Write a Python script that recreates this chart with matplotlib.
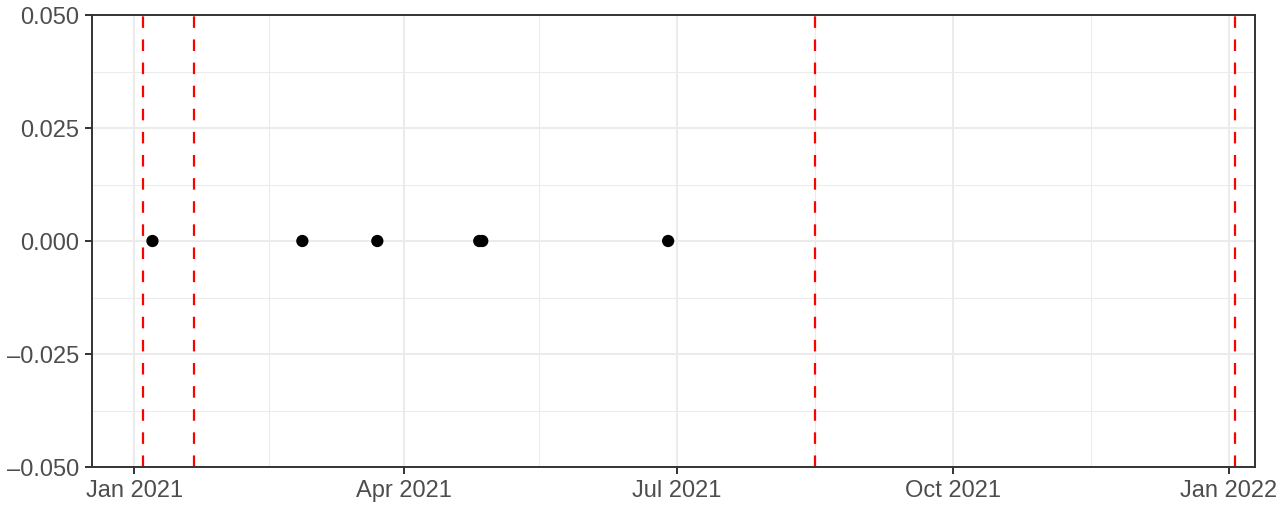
import datetime as dt
import matplotlib
matplotlib.use("Agg")
import matplotlib.pyplot as plt
import matplotlib.dates as mdates
from matplotlib.ticker import FixedLocator, FuncFormatter

plt.rcParams['font.family'] = ['Liberation Sans', 'DejaVu Sans']

# data
point_dates = ['2021-01-07', '2021-02-26', '2021-03-23', '2021-04-26', '2021-04-27', '2021-06-28']
point_values = [0, 0, 0, 0, 0, 0]
vline_dates = ['2021-01-04', '2021-01-21', '2021-08-16', '2022-01-03']
x_tick_dates = ['2021-01-01', '2021-04-01', '2021-07-01', '2021-10-01', '2022-01-01']
x_minor_dates = ['2021-02-15', '2021-05-16', '2021-08-16', '2021-11-16']
y_ticks = [-0.05, -0.025, 0.0, 0.025, 0.05]
y_minor = [-0.0375, -0.0125, 0.0125, 0.0375]


def to_dt(s):
    return dt.datetime.strptime(s, '%Y-%m-%d')


fig = plt.figure(figsize=(12.8, 5.11), dpi=100)
ax = fig.add_axes([92 / 1280, 1 - 467 / 511, (1255 - 92) / 1280, (467 - 15) / 511])

grid_col = '#EBEBEB'
border_col = '#333333'

ax.set_xlim(dt.datetime(2020, 12, 17, 20), dt.datetime(2022, 1, 9, 18))
ax.set_ylim(-0.05, 0.05)

ax.xaxis.set_major_locator(FixedLocator([mdates.date2num(to_dt(d)) for d in x_tick_dates]))
ax.xaxis.set_minor_locator(FixedLocator([mdates.date2num(to_dt(d)) for d in x_minor_dates]))
ax.xaxis.set_major_formatter(mdates.DateFormatter('%b %Y'))
ax.yaxis.set_major_locator(FixedLocator(y_ticks))
ax.yaxis.set_minor_locator(FixedLocator(y_minor))
ax.yaxis.set_major_formatter(FuncFormatter(lambda v, p: f"{v:.3f}".replace('-', '\u2013')))

ax.grid(which='major', color=grid_col, linewidth=1.5)
ax.grid(which='minor', color=grid_col, linewidth=0.75)
ax.set_axisbelow(True)

# red dashed markers
for d in vline_dates:
    ax.axvline(to_dt(d), color='#FF0000', linewidth=1.6, linestyle=(0, (5.2, 5.2)), zorder=2)

ax.scatter([to_dt(d) for d in point_dates], point_values, s=78, color='black',
           edgecolors='none', zorder=3)

for s in ax.spines.values():
    s.set_color(border_col)
    s.set_linewidth(1.4)

ax.tick_params(which='major', length=5, width=1.4, color=border_col,
               labelsize=17, labelcolor='#4D4D4D', pad=4)
ax.tick_params(which='minor', length=0)

fig.savefig('out.png', dpi=100)
plt.close()
